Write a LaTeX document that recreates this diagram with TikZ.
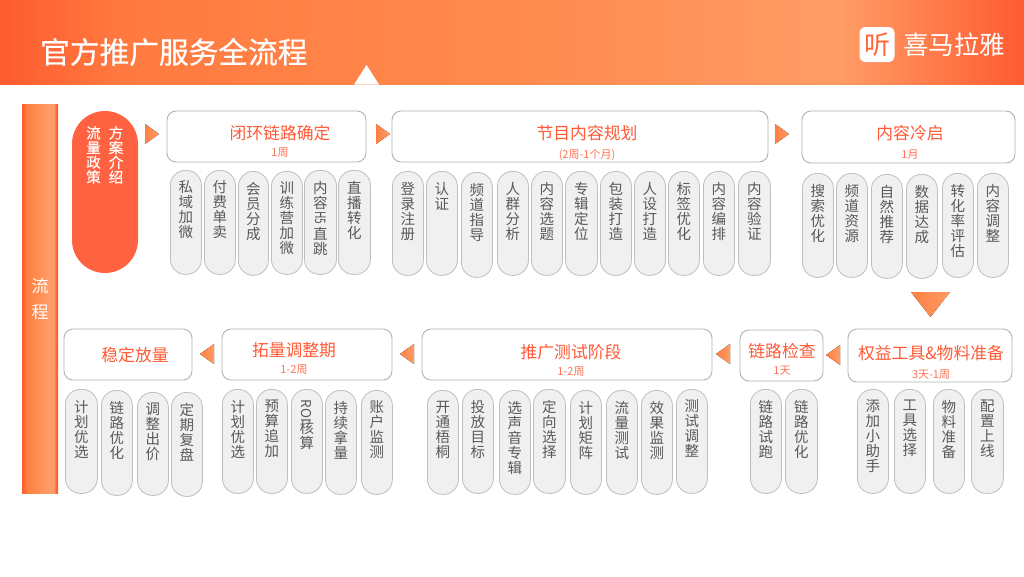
\documentclass[tikz,border=0pt]{standalone}
\usepackage{fontspec}
\usepackage{graphicx}
\setmainfont{Noto Sans CJK SC}
\newfontfamily\titlefont[FakeBold=0.5]{Noto Sans CJK SC}
\newfontfamily\policyfont[FakeBold=0.25]{Noto Sans CJK SC}
\XeTeXlinebreaklocale "zh"
\XeTeXlinebreakskip=0pt plus 1pt
\normallineskiplimit=-20pt
\lineskiplimit=-20pt
\definecolor{hot}{HTML}{FF5B30}
\definecolor{mid}{HTML}{FF9C66}
\definecolor{hdrb}{HTML}{FF7A40}
\definecolor{hdrc}{HTML}{FF8A4E}
\definecolor{titlered}{HTML}{FF5A36}
\definecolor{pilltext}{HTML}{595959}
\definecolor{arrowa}{HTML}{FF7F42}
\pgfdeclarehorizontalshading{hdrshade}{100bp}{color(0bp)=(hot); color(25bp)=(hot); color(31bp)=(hdrb); color(50bp)=(hdrc); color(66bp)=(mid); color(75bp)=(hot); color(100bp)=(hot)}
\pgfdeclarehorizontalshading{barshade}{100bp}{color(0bp)=(hot); color(25bp)=(hot); color(32bp)=(arrowa); color(62bp)=(mid); color(69bp)=(mid); color(73bp)=(hot); color(75bp)=(hot); color(100bp)=(hot)}
\tikzset{
  x=1pt,y=-1pt,
  pillbox/.style={draw=black!25,line width=.8pt,fill=black!6,rounded corners=15pt,inner sep=0pt,text=pilltext,anchor=north west},
  headbox/.style={draw=black!30,line width=.9pt,fill=white,rounded corners=9pt,inner sep=0pt},
  headtitle/.style={text=titlered,font=\fontsize{16.8}{18}\selectfont,inner sep=0pt},
  headsub/.style={text=titlered!85!white,font=\fontsize{11}{12}\selectfont,inner sep=0pt},
  arrowtri/.style={left color=arrowa,right color=mid,draw=none},
}
\newcommand{\latin}[2]{\raisebox{#1}{\rotatebox{-90}{#2}}}
% name, x1, x2, y1, y2, text
\newcommand{\pillnode}[6]{%
  \pgfmathsetmacro{\pw}{#3-#2}\pgfmathsetmacro{\ph}{#5-#4}%
  \node[pillbox,minimum width=\pw pt,minimum height=\ph pt] (#1) at (#2,#4)
   {\parbox[c][\ph pt][t]{16pt}{\vspace*{10.5pt}\centering\fontsize{14.5}{15}\selectfont #6\par}};}
% name, x1, x2, y1, y2, tx, ty, title, sy+sub
\newcommand{\headnode}[9]{%
  \pgfmathsetmacro{\pw}{#3-#2}\pgfmathsetmacro{\ph}{#5-#4}%
  \pgfmathsetmacro{\cx}{(#2+#3)/2}\pgfmathsetmacro{\cy}{(#4+#5)/2}%
  \node[headbox,minimum width=\pw pt,minimum height=\ph pt] (#1) at (\cx,\cy) {};
  \node[headtitle] (#1t) at (#6,#7) {#8};
  \headsubaux{#1}{#6}#9}
\newcommand{\headsubaux}[4]{\node[headsub] (#1s) at (#2,#3) {#4};}
\begin{document}
\begin{tikzpicture}
\useasboundingbox (0,0) rectangle (1024,576);
\fill[white] (0,0) rectangle (1024,576);
% header
\shade[shading=hdrshade] (0,0) rectangle (1024,84);
\fill[white] (354,84.5) -- (366.5,65) -- (379,84.5) -- cycle;
\node[text=white,anchor=west,inner sep=0pt,font=\titlefont\fontsize{29.7}{32}\selectfont] (title) at (40,52) {官方推广服务全流程};
\node[fill=white,rounded corners=6pt,minimum width=35pt,minimum height=35pt,inner sep=0pt,text=hot!85!mid,font=\fontsize{26}{28}\selectfont] (logo) at (877,44.5) {听};
\node[text=white,anchor=west,inner sep=0pt,font=\fontsize{25.5}{28}\selectfont] (brand) at (903,45) {喜马拉雅};
% side bar
\shade[shading=barshade] (22,104) rectangle (58,493);
\node[text=white,inner sep=0pt,align=center,font=\fontsize{17}{25.5}\selectfont] (flow) at (40,299) {流\\程};
% red pill
\node[fill=titlered!95!white,rounded corners=33pt,minimum width=66pt,minimum height=162pt,inner sep=0pt,text=white] (policy) at (105,192) {};
\node[text=white,inner sep=0pt,anchor=north,font=\policyfont\fontsize{14.5}{14.7}\selectfont,align=center] (policya) at (116,126) {方\\案\\介\\绍};
\node[text=white,inner sep=0pt,anchor=north,font=\policyfont\fontsize{14.5}{14.7}\selectfont,align=center] (policyb) at (93.5,126) {流\\量\\政\\策};
% arrows
\foreach \x in {145,376,775} \fill[arrowtri] (\x,124) -- (\x+14,134) -- (\x,144) -- cycle;
\foreach \x/\y in {214/354,414/354,730/354,840/355} \fill[arrowtri] (\x,\y-10) -- (\x-14,\y) -- (\x,\y+10) -- cycle;
\fill[arrowtri] (911,292) -- (950,292) -- (930.5,317) -- cycle;
% headers
\headnode{ha}{167}{366}{111}{162}{280}{133}{闭环链路确定}{{153}{1周}{}}
\headnode{hb}{392}{768}{111}{162}{587}{133}{节目内容规划}{{155}{(2周-1个月)}{}}
\headnode{hc}{802}{1015}{111}{163}{910}{133}{内容冷启}{{155}{1月}{}}
\headnode{hd}{848}{1012}{329}{382}{931}{353}{权益工具\&物料准备}{{375}{3天-1周}{}}
\headnode{he}{740}{823}{330}{381}{782}{351}{链路检查}{{371}{1天}{}}
\headnode{hf}{422}{712}{329}{380}{571}{352}{推广测试阶段}{{372}{1-2周}{}}
\headnode{hg}{222}{392}{329}{380}{294}{350}{拓量调整期}{{370}{1-2周}{}}
\headnode{hh}{64}{192}{329}{380}{135}{355}{稳定放量}{{370}{}{}}
% row 1
\pillnode{a1}{170}{201}{170}{274}{私域加微}
\pillnode{a2}{204}{235}{170}{274}{付费单卖}
\pillnode{a3}{238}{268}{171}{275}{会员分成}
\pillnode{a4}{271}{302}{171}{274}{训练营加微}
\pillnode{a5}{304}{336}{170}{274}{内容\\\latin{11.5pt}{\scalebox{.7}[1]{H5}}\\[1pt]直跳}
\pillnode{a6}{338}{370}{170}{274}{直播转化}
\pillnode{b1}{392}{423}{171}{275}{登录注册}
\pillnode{b2}{426}{457}{171}{275}{认证}
\pillnode{b3}{461}{492}{172}{277}{频道指导}
\pillnode{b4}{497}{528}{171}{275}{人群分析}
\pillnode{b5}{531}{562}{171}{275}{内容选题}
\pillnode{b6}{565}{597}{171}{275}{专辑定位}
\pillnode{b7}{600}{631}{171}{275}{包装打造}
\pillnode{b8}{634}{665}{171}{275}{人设打造}
\pillnode{b9}{668}{699}{171}{275}{标签优化}
\pillnode{b10}{703}{734}{171}{275}{内容编排}
\pillnode{b11}{738}{770}{171}{275}{内容验证}
\pillnode{c1}{802}{833}{173}{277}{搜索优化}
\pillnode{c2}{836}{867}{173}{277}{频道资源}
\pillnode{c3}{871}{902}{174}{278}{自然推荐}
\pillnode{c4}{906}{937}{174}{278}{数据达成}
\pillnode{c5}{942}{973}{173}{277}{转化率评估}
\pillnode{c6}{977}{1008}{173}{277}{内容调整}
% row 2
\pillnode{d1}{65}{97}{389}{493}{计划优选}
\pillnode{d2}{101}{132}{390}{495}{链路优化}
\pillnode{d3}{137}{168}{392}{495}{调整出价}
\pillnode{d4}{171}{202}{392}{496}{定期复盘}
\pillnode{e1}{222}{253}{389}{493}{计划优选}
\pillnode{e2}{256}{287}{389}{493}{预算追加}
\pillnode{e3}{291}{322}{389}{493}{\latin{0pt}{\fontsize{13.5}{14}\selectfont ROI}\\[19pt]核算}
\pillnode{e4}{325}{356}{390}{494}{持续拿量}
\pillnode{e5}{361}{392}{390}{494}{账户监测}
\pillnode{f1}{427}{458}{390}{494}{开通梧桐}
\pillnode{f2}{462}{493}{389}{493}{投放目标}
\pillnode{f3}{499}{530}{390}{494}{选声音专辑}
\pillnode{f4}{533}{565}{389}{493}{定向选择}
\pillnode{f5}{570}{601}{390}{494}{计划矩阵}
\pillnode{f6}{606}{637}{390}{494}{流量测试}
\pillnode{f7}{641}{672}{390}{494}{效果监测}
\pillnode{f8}{676}{707}{389}{493}{测试调整}
\pillnode{g1}{750}{781}{389}{493}{链路试跑}
\pillnode{g2}{785}{817}{389}{493}{链路优化}
\pillnode{k1}{857}{888}{389}{493}{添加小助手}
\pillnode{k2}{894}{925}{389}{493}{工具选择}
\pillnode{k3}{933}{964}{389}{493}{物料准备}
\pillnode{k4}{971}{1003}{389}{493}{配置上线}
\end{tikzpicture}
\end{document}
